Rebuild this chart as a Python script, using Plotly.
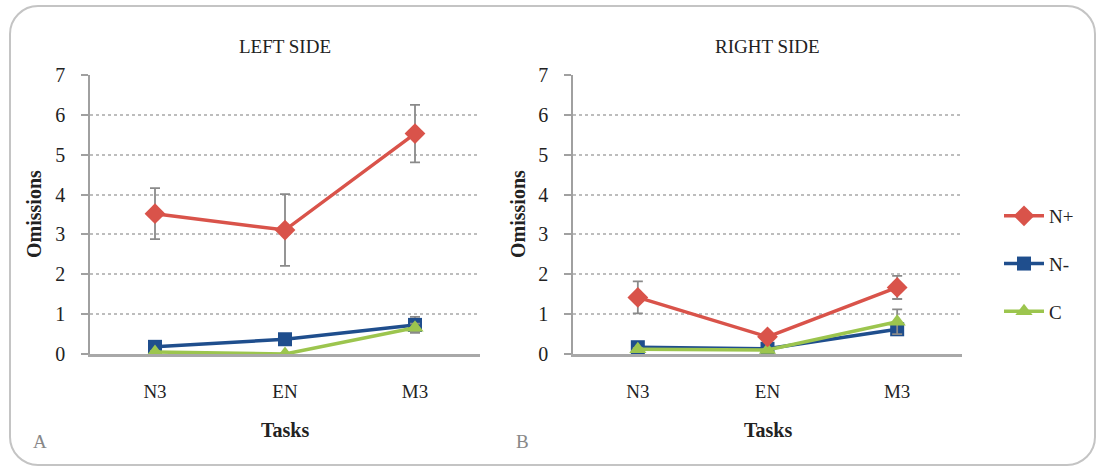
import plotly.graph_objects as go

# Task categories
tasks = ["N3", "EN", "M3"]

# Mean omissions and error half-widths, left side
left_np = [3.52, 3.11, 5.53]
left_np_err = [0.64, 0.90, 0.72]
left_nm = [0.18, 0.37, 0.73]
left_nm_err = [0.05, 0.08, 0.20]
left_c = [0.05, 0.00, 0.66]
left_c_err = [0.03, 0.02, 0.10]

# Mean omissions and error half-widths, right side
right_np = [1.42, 0.43, 1.67]
right_np_err = [0.40, 0.06, 0.29]
right_nm = [0.17, 0.13, 0.62]
right_nm_err = [0.04, 0.03, 0.14]
right_c = [0.12, 0.10, 0.81]
right_c_err = [0.03, 0.03, 0.31]

y_ticks = [0, 1, 2, 3, 4, 5, 6, 7]

W, H = 1098, 469
RED = "#D9534A"
BLUE = "#1F4E8D"
GREEN = "#9CC54E"
ERR = "#8A8A8A"
SERIF = "Liberation Serif"


def px(x):
    return x / W


def py(y):
    return 1 - y / H


series = [
    # name, color, symbol, size, left values, left err, right values, right err, rank
    ("N-", BLUE, "square", 14, left_nm, left_nm_err, right_nm, right_nm_err, 2),
    ("C", GREEN, "triangle-up", 15, left_c, left_c_err, right_c, right_c_err, 3),
    ("N+", RED, "diamond", 16, left_np, left_np_err, right_np, right_np_err, 1),
]

fig = go.Figure()
for name, color, symbol, size, lv, le, rv, re_, rank in series:
    for xa, ya, vals, errs, show in (("x", "y", lv, le, True), ("x2", "y2", rv, re_, False)):
        fig.add_trace(go.Scatter(
            x=tasks, y=vals, name=name, mode="lines+markers",
            xaxis=xa, yaxis=ya, showlegend=show, legendgroup=name, legendrank=rank,
            line=dict(color=color, width=3.5),
            marker=dict(symbol=symbol, size=size, color=color),
            error_y=dict(type="data", array=errs, visible=True,
                         color=ERR, thickness=1.8, width=5),
        ))

# Left plot spans x 90..480 px, right plot 573..962 px; y from 75 to 354 px
ydom = [py(354), py(75)]
yaxis_common = dict(
    range=[0, 7], tickvals=y_ticks, ticks="outside", ticklen=7,
    tickcolor="#A0A0A0", tickwidth=1.5, showgrid=True, gridcolor="#BDBDBD",
    griddash="dot", gridwidth=1.5, zeroline=False, ticklabelstandoff=12,
    showline=True, linecolor="#A0A0A0", linewidth=1.5, domain=ydom,
    fixedrange=True, automargin=False,
    tickfont=dict(family=SERIF, size=20, color="#222"),
)
xaxis_common = dict(
    type="category", categoryorder="array", categoryarray=tasks,
    range=[-0.5, 2.5], showgrid=False, zeroline=False, ticks="",
    showline=True, linecolor="#A8A8A8", linewidth=2.5,
    ticklabelstandoff=18, fixedrange=True, automargin=False,
    tickfont=dict(family=SERIF, size=19, color="#222"),
)

fig.update_layout(
    width=W, height=H, autosize=False,
    margin=dict(l=0, r=0, t=0, b=0, pad=0, autoexpand=False),
    paper_bgcolor="white", plot_bgcolor="white",
    xaxis=dict(domain=[px(90), px(480)], anchor="y", **xaxis_common),
    yaxis=dict(anchor="x", **yaxis_common),
    xaxis2=dict(domain=[px(573), px(962)], anchor="y2", **xaxis_common),
    yaxis2=dict(anchor="x2", **yaxis_common),
    legend=dict(
        x=px(999), y=py(197), xanchor="left", yanchor="top",
        font=dict(family=SERIF, size=19, color="#222"),
        tracegroupgap=20, bgcolor="rgba(0,0,0,0)", itemwidth=40,
    ),
    showlegend=True,
)

# Rounded outer frame
x0, y0, x1, y1, r = 10, 6, 1095, 465, 28
k = 0.5523 * r


def P(x, y):
    return f"{px(x):.5f},{py(y):.5f}"


path = (
    f"M {P(x0 + r, y0)} L {P(x1 - r, y0)} "
    f"C {P(x1 - r + k, y0)} {P(x1, y0 + r - k)} {P(x1, y0 + r)} "
    f"L {P(x1, y1 - r)} "
    f"C {P(x1, y1 - r + k)} {P(x1 - r + k, y1)} {P(x1 - r, y1)} "
    f"L {P(x0 + r, y1)} "
    f"C {P(x0 + r - k, y1)} {P(x0, y1 - r + k)} {P(x0, y1 - r)} "
    f"L {P(x0, y0 + r)} "
    f"C {P(x0, y0 + r - k)} {P(x0 + r - k, y0)} {P(x0 + r, y0)} Z"
)
fig.add_shape(type="path", path=path, xref="paper", yref="paper",
              line=dict(color="#C4C4C4", width=2), layer="below")

annots = [
    dict(text="LEFT SIDE", x=285, y=47, size=19, color="#222"),
    dict(text="RIGHT SIDE", x=767, y=47, size=19, color="#222"),
    dict(text="<b>Tasks</b>", x=285, y=430, size=20, color="#222"),
    dict(text="<b>Tasks</b>", x=768, y=430, size=20, color="#222"),
    dict(text="A", x=40, y=441, size=19, color="#888"),
    dict(text="B", x=522, y=441, size=19, color="#888"),
]
for a in annots:
    fig.add_annotation(text=a["text"], x=px(a["x"]), y=py(a["y"]), xref="paper",
                       yref="paper", showarrow=False, xanchor="center", yanchor="middle",
                       font=dict(family=SERIF, size=a["size"], color=a["color"]))

for xc in (34, 518):
    fig.add_annotation(text="<b>Omissions</b>", x=px(xc), y=py(214), xref="paper",
                       yref="paper", showarrow=False, textangle=-90,
                       xanchor="center", yanchor="middle",
                       font=dict(family=SERIF, size=20, color="#222"))

fig.write_html("out.html")
